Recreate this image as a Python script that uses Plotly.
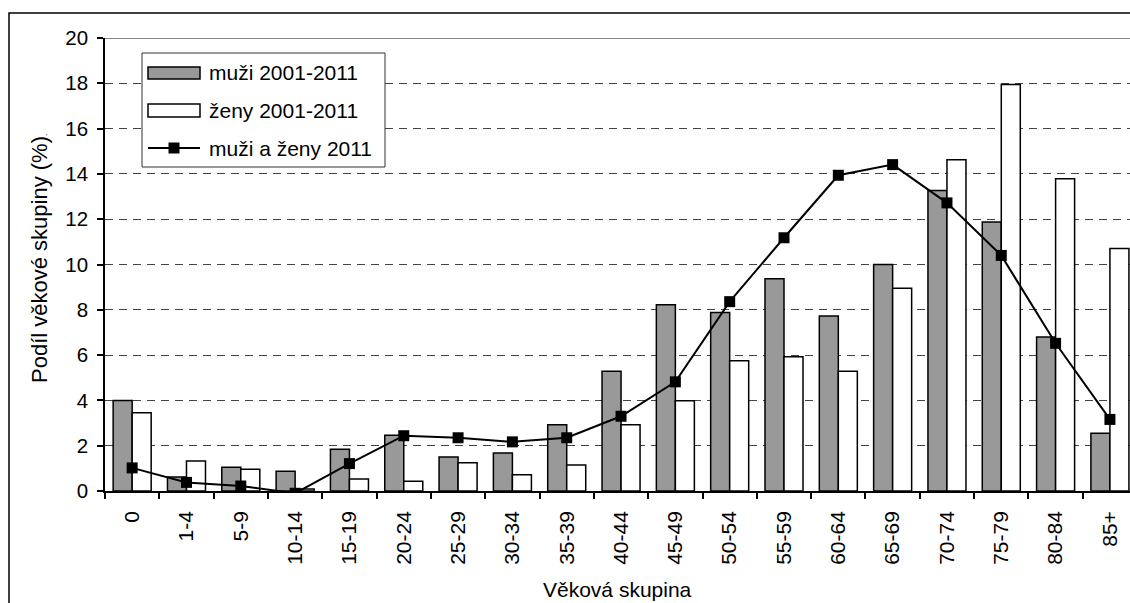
import plotly.graph_objects as go

categories = ["0", "1-4", "5-9", "10-14", "15-19", "20-24", "25-29", "30-34", "35-39",
              "40-44", "45-49", "50-54", "55-59", "60-64", "65-69", "70-74", "75-79",
              "80-84", "85+"]
muzi_2001_2011 = [4.0, 0.62, 1.05, 0.87, 1.84, 2.46, 1.50, 1.68, 2.92, 5.29, 8.22, 7.88,
                  9.37, 7.73, 10.0, 13.27, 11.88, 6.80, 2.55]
zeny_2001_2011 = [3.45, 1.33, 0.96, 0.09, 0.53, 0.43, 1.25, 0.72, 1.15, 2.92, 3.98, 5.75,
                  5.93, 5.29, 8.95, 14.62, 17.95, 13.79, 10.71]
muzi_a_zeny_2011 = [1.02, 0.38, 0.22, -0.1, 1.21, 2.44, 2.35, 2.17, 2.35, 3.30, 4.82, 8.36,
                    11.18, 13.94, 14.41, 12.72, 10.40, 6.52, 3.16]
legend_labels = ["muži 2001-2011", "ženy 2001-2011", "muži a ženy 2011"]

W, H = 1130, 603
L, R, T, B = 105, 0, 38, 112
PW, PH = W - L - R, H - T - B
CAT_W = 54.32
FONT = "Liberation Sans, Arial, sans-serif"


def px(x):
    return (x - L) / PW


def py(y):
    return (H - B - y) / PH


fig = go.Figure()
fig.add_trace(go.Bar(x=categories, y=muzi_2001_2011, name=legend_labels[0],
                     marker=dict(color="#999999", line=dict(color="black", width=1.5))))
fig.add_trace(go.Bar(x=categories, y=zeny_2001_2011, name=legend_labels[1],
                     marker=dict(color="white", line=dict(color="black", width=1.5))))
fig.add_trace(go.Scatter(x=categories, y=muzi_a_zeny_2011, name=legend_labels[2],
                         mode="lines+markers",
                         line=dict(color="black", width=2),
                         marker=dict(symbol="square", size=11, color="black")))

shapes = []
# outer chart frame (cut off at right/bottom)
shapes.append(dict(type="rect", xref="paper", yref="paper",
                   x0=px(9), x1=px(1200), y0=py(13), y1=py(700),
                   line=dict(color="black", width=1.5), layer="below"))
# top border of the plot area at 20
shapes.append(dict(type="line", xref="paper", yref="y", x0=0, x1=1, y0=20, y1=20,
                   line=dict(color="#8a8a8a", width=2)))
# manual legend
shapes.append(dict(type="rect", xref="paper", yref="paper",
                   x0=px(142), x1=px(385), y0=py(53), y1=py(167),
                   line=dict(color="#333333", width=1), fillcolor="white"))
shapes.append(dict(type="rect", xref="paper", yref="paper",
                   x0=px(148), x1=px(200), y0=py(67), y1=py(79),
                   line=dict(color="black", width=1.5), fillcolor="#999999"))
shapes.append(dict(type="rect", xref="paper", yref="paper",
                   x0=px(148), x1=px(200), y0=py(104), y1=py(117),
                   line=dict(color="black", width=1.5), fillcolor="white"))
shapes.append(dict(type="line", xref="paper", yref="paper",
                   x0=px(148), x1=px(200), y0=py(148), y1=py(148),
                   line=dict(color="black", width=2)))
shapes.append(dict(type="rect", xref="paper", yref="paper",
                   x0=px(168.5), x1=px(179.5), y0=py(142.5), y1=py(153.5),
                   line=dict(color="black", width=0), fillcolor="black"))

annotations = []
for label, yc in zip(legend_labels, [73, 110, 148]):
    annotations.append(dict(text=label, xref="paper", yref="paper", x=px(207), y=py(yc),
                            xanchor="left", yanchor="middle", showarrow=False,
                            font=dict(family=FONT, size=21, color="black")))
annotations.append(dict(text="Podíl věkové skupiny (%)<span style='font-size:9px'>.</span>",
                        xref="paper", yref="paper", x=px(39), y=py(258),
                        xanchor="center", yanchor="middle", textangle=-90, showarrow=False,
                        font=dict(family=FONT, size=22, color="black")))
annotations.append(dict(text="Věková skupina", xref="paper", yref="paper",
                        x=px(617), y=py(589), xanchor="center", yanchor="middle",
                        showarrow=False, font=dict(family=FONT, size=21, color="black")))

fig.update_layout(
    width=W, height=H,
    margin=dict(l=L, r=R, t=T, b=B, pad=0),
    paper_bgcolor="white", plot_bgcolor="white",
    barmode="group", bargap=0.30, bargroupgap=0,
    showlegend=False,
    shapes=shapes, annotations=annotations,
    font=dict(family=FONT, size=20, color="black"),
)
fig.update_xaxes(
    type="category", range=[-0.5, -0.5 + PW / CAT_W],
    tickson="boundaries", ticks="outside", ticklen=6, tickcolor="black", tickwidth=1.5,
    showline=True, linecolor="black", linewidth=1.5,
    tickangle=-90, tickfont=dict(family=FONT, size=21, color="black"),
    ticklabelstandoff=10,
    showgrid=False, zeroline=False,
)
fig.update_yaxes(
    range=[0, 20], dtick=2, ticks="outside", ticklen=6, tickcolor="black", tickwidth=1.5,
    showline=True, linecolor="black", linewidth=1.5,
    tickfont=dict(family=FONT, size=20.5, color="black"), ticklabelstandoff=5,
    showgrid=True, gridcolor="#444444", gridwidth=1, griddash="8px,6px",
    zeroline=False,
)

fig.write_html("out.html",
               config={"displayModeBar": False},
               post_script="document.body.style.margin='0';document.body.style.overflow='hidden';")
